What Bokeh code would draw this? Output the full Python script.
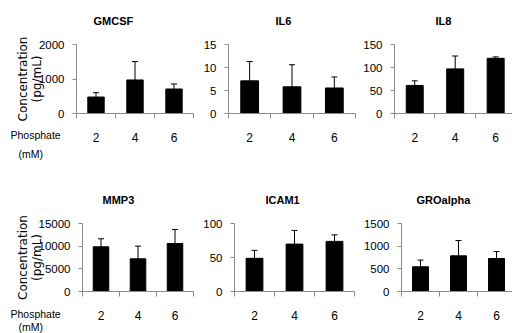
from bokeh.plotting import figure
from bokeh.models import Range1d, FixedTicker, Whisker, ColumnDataSource, TeeHead, Title
from bokeh.layouts import column, row
from bokeh.embed import file_html
from bokeh.resources import INLINE

# ---- data ----
phosphate = ["2", "4", "6"]
x_pos = [1, 2, 3]

titles = ["GMCSF", "IL6", "IL8", "MMP3", "ICAM1", "GROalpha"]

gmcsf_mean = [477, 972, 710]
gmcsf_err = [126, 533, 146]
il6_mean = [7.1, 5.8, 5.55]
il6_err = [4.2, 4.8, 2.4]
il8_mean = [61, 97, 120]
il8_err = [10, 28, 3]
mmp3_mean = [9860, 7210, 10590]
mmp3_err = [1770, 2800, 3090]
icam1_mean = [48.8, 69.7, 73.7]
icam1_err = [11.7, 20.1, 9.6]
groalpha_mean = [545, 787, 728]
groalpha_err = [148, 338, 154]

y_max = [2000, 15, 150, 15000, 100, 1500]
y_ticks = [[0, 1000, 2000], [0, 5, 10, 15], [0, 50, 100, 150],
           [0, 5000, 10000, 15000], [0, 50, 100], [0, 500, 1000, 1500]]

ylabel_text = "Concentration\n(pg/mL)"
xlabel_lines = ["Phosphate", "(mM)"]

means = [gmcsf_mean, il6_mean, il8_mean, mmp3_mean, icam1_mean, groalpha_mean]
errs = [gmcsf_err, il6_err, il8_err, mmp3_err, icam1_err, groalpha_err]

# ---- layout geometry (pixels) ----
geo = [
    dict(w=200, h=165, bl=76, br=7, bt=44, bb=52, xend=3.5, toff=17, ls=8, sp=4),
    dict(w=160, h=165, bl=25, br=5, bt=44, bb=52, xend=3.5, toff=47, ls=8, sp=4),
    dict(w=152, h=165, bl=31, br=0, bt=44, bb=52, xend=3.416, toff=41, ls=8, sp=4),
    dict(w=200, h=168, bl=82, br=7, bt=58, bb=42, xend=3.5, toff=20, ls=8, sp=4),
    dict(w=160, h=168, bl=31, br=6, bt=58, bb=42, xend=3.5, toff=31, ls=8, sp=4),
    dict(w=152, h=168, bl=38, br=0, bt=58, bb=42, xend=3.42, toff=15, ls=8, sp=4),
]

FONT = "Liberation Sans"
AXIS_GREY = "#8c8c8c"


def make_panel(i):
    g = geo[i]
    p = figure(width=g["w"], height=g["h"],
               min_border_left=g["bl"], min_border_right=g["br"],
               min_border_top=g["bt"], min_border_bottom=g["bb"],
               x_range=Range1d(0.5, g["xend"]), y_range=Range1d(0, y_max[i]),
               toolbar_location=None, output_backend="svg")
    p.outline_line_color = None
    p.grid.visible = False
    p.background_fill_color = "white"
    p.border_fill_color = "white"

    upper = [m + e for m, e in zip(means[i], errs[i])]
    src = ColumnDataSource(dict(x=x_pos, mean=means[i], upper=upper))
    p.vbar(x="x", top="mean", width=0.42, source=src,
           fill_color="black", line_color="black", line_width=1)
    w = Whisker(source=src, base="x", upper="upper", lower="mean",
                line_color="black", line_width=1,
                upper_head=TeeHead(size=6, line_color="black", line_width=1),
                lower_head=None)
    p.add_layout(w)

    # x axis
    xa = p.xaxis[0]
    xa.ticker = FixedTicker(ticks=x_pos, minor_ticks=[0.5, 1.5, 2.5, 3.5])
    xa.major_label_overrides = {x: lab for x, lab in zip(x_pos, phosphate)}
    xa.major_tick_out = 0
    xa.major_tick_in = 0
    xa.minor_tick_out = 5
    xa.minor_tick_in = 0
    xa.axis_line_color = AXIS_GREY
    xa.minor_tick_line_color = AXIS_GREY
    xa.major_label_standoff = 14
    xa.major_label_text_font = FONT
    xa.major_label_text_font_size = "12px"
    xa.major_label_text_color = "black"

    # y axis
    ya = p.yaxis[0]
    ya.ticker = FixedTicker(ticks=y_ticks[i], minor_ticks=[])
    ya.major_tick_out = 4
    ya.major_tick_in = 0
    ya.axis_line_color = AXIS_GREY
    ya.major_tick_line_color = AXIS_GREY
    ya.major_label_standoff = g["ls"]
    ya.major_label_text_font = FONT
    ya.major_label_text_font_size = "11.5px"
    ya.major_label_text_color = "black"

    # blank spacer between the frame and the title
    p.add_layout(Title(text=" ", standoff=g["sp"], text_font=FONT,
                       text_font_style="bold", text_font_size="11px"), "above")
    # title
    p.title.text = titles[i]
    p.title.align = "left"
    p.title.offset = g["toff"]
    p.title.standoff = 0
    p.title.text_font = FONT
    p.title.text_font_style = "bold"
    p.title.text_font_size = "11px"
    p.title.text_color = "black"
    return p


panels = [make_panel(i) for i in range(6)]

# y axis description on the left-hand panels
for p in (panels[0], panels[3]):
    ya = p.yaxis[0]
    ya.axis_label = ylabel_text
    ya.axis_label_standoff = -8
    ya.axis_label_text_font = "DejaVu Sans"
    ya.axis_label_text_font_style = "normal"
    ya.axis_label_text_font_size = "12px"
    ya.axis_label_text_line_height = 1.0
    ya.axis_label_text_color = "black"

# x axis description, left of the tick labels
for p, off1, off2, s1, s2 in [(panels[0], -66, -58, -32, 3),
                              (panels[3], -72, -64, -30, -8)]:
    p.add_layout(Title(text=xlabel_lines[0], align="left", offset=off1, standoff=s1,
                       vertical_align="top", text_font=FONT, text_font_style="normal",
                       text_font_size="10.5px", text_color="black"), "below")
    p.add_layout(Title(text=xlabel_lines[1], align="left", offset=off2, standoff=s2,
                       vertical_align="bottom", text_font=FONT, text_font_style="normal",
                       text_font_size="10.5px", text_color="black"), "below")

layout = column(row(*panels[:3]), row(*panels[3:]))
open("out.html", "w").write(file_html(layout, INLINE))
